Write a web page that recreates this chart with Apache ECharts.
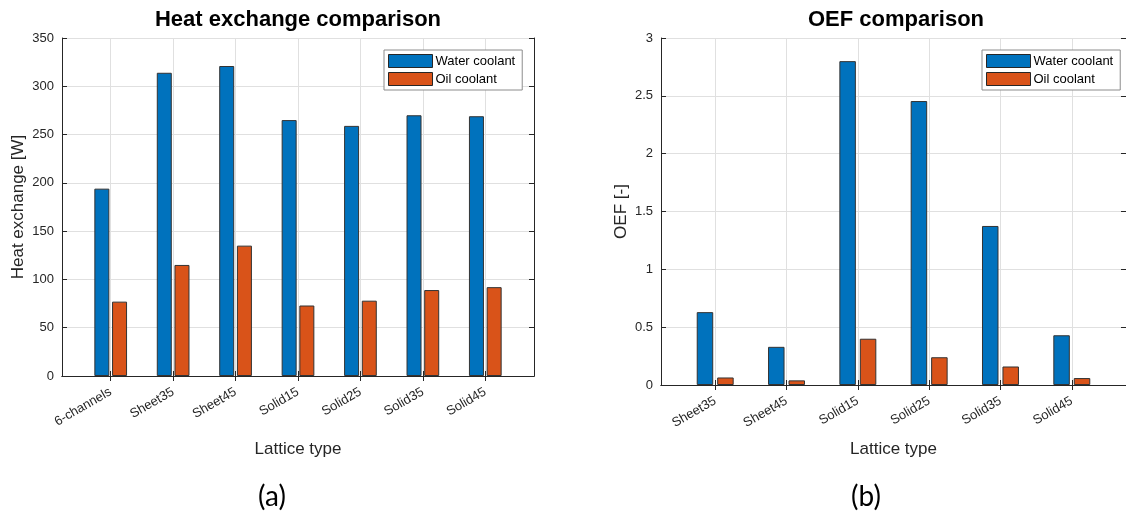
<!DOCTYPE html>
<html>
<head>
<meta charset="utf-8">
<script src="https://cdn.jsdelivr.net/npm/echarts@6/dist/echarts.min.js"></script>
<style>
  html, body { margin: 0; padding: 0; background: #fff; }
  #chart { width: 1126px; height: 516px; }
</style>
</head>
<body>
<div id="chart"></div>
<script>
// ---- data ----
const categoriesA = ['6-channels', 'Sheet35', 'Sheet45', 'Solid15', 'Solid25', 'Solid35', 'Solid45'];
const waterHeat = [194, 314, 321, 265, 259, 270, 269];
const oilHeat = [77, 115, 135, 73, 78, 89, 92];

const categoriesB = ['Sheet35', 'Sheet45', 'Solid15', 'Solid25', 'Solid35', 'Solid45'];
const waterOEF = [0.63, 0.33, 2.8, 2.455, 1.375, 0.43];
const oilOEF = [0.065, 0.04, 0.4, 0.24, 0.16, 0.06];

const seriesNames = ['Water coolant', 'Oil coolant'];
const yRangeA = { min: 0, max: 350, interval: 50 };
const yRangeB = { min: 0, max: 3, interval: 0.5 };

// ---- style ----
const FONT = '"Liberation Sans", Arial, sans-serif';
const INK = '#262626';
const GRID = '#e0e0e0';
const BLUE = '#0072BD';
const ORANGE = '#D95319';

const posA = categoriesA.map((_, i) => i + 1);
const posB = categoriesB.map((_, i) => i + 1);

function bottomAxis(gridIndex, cats, pos, min, max, nameGap) {
  return {
    type: 'value', gridIndex, position: 'bottom', min, max,
    name: 'Lattice type', nameLocation: 'middle', nameGap,
    nameTextStyle: { fontFamily: FONT, fontSize: 17, color: INK },
    axisLine: { show: true, lineStyle: { color: INK, width: 1 } },
    axisTick: { show: true, inside: true, length: 5, customValues: pos, lineStyle: { color: INK } },
    axisLabel: {
      show: true, customValues: pos, rotate: 30, margin: 15,
      fontFamily: FONT, fontSize: 13, color: INK,
      formatter: v => cats[Math.round(v) - 1] || ''
    },
    splitLine: { show: true, lineStyle: { color: GRID, width: 1 } }
  };
}
function topAxis(gridIndex, pos, min, max) {
  return {
    type: 'value', gridIndex, position: 'top', min, max,
    axisLine: { show: true, lineStyle: { color: INK, width: 1 } },
    axisTick: { show: true, inside: true, length: 5, customValues: pos, lineStyle: { color: INK } },
    axisLabel: { show: false },
    splitLine: { show: false }
  };
}
function leftAxis(gridIndex, r, name, nameGap) {
  return {
    type: 'value', gridIndex, position: 'left', min: r.min, max: r.max, interval: r.interval,
    name, nameLocation: 'middle', nameGap,
    nameTextStyle: { fontFamily: FONT, fontSize: 17, color: INK },
    axisLine: { show: true, lineStyle: { color: INK, width: 1 } },
    axisTick: { show: true, inside: true, length: 5, lineStyle: { color: INK } },
    axisLabel: { show: true, margin: 8, fontFamily: FONT, fontSize: 13, color: INK },
    splitLine: { show: true, lineStyle: { color: GRID, width: 1 } }
  };
}
function rightAxis(gridIndex, r) {
  return {
    type: 'value', gridIndex, position: 'right', min: r.min, max: r.max, interval: r.interval,
    axisLine: { show: true, lineStyle: { color: INK, width: 1 } },
    axisTick: { show: true, inside: true, length: 5, lineStyle: { color: INK } },
    axisLabel: { show: false },
    splitLine: { show: false }
  };
}
function barSeries(name, color, xi, yi, values, width, gap) {
  return {
    type: 'bar', name, xAxisIndex: xi, yAxisIndex: yi,
    data: values.map((v, i) => [i + 1, v]),
    barWidth: width, barGap: gap,
    itemStyle: { color, borderColor: '#333333', borderWidth: 1 },
    emphasis: { disabled: true },
    animation: false
  };
}
function legendAt(left, top) {
  return {
    left, top, orient: 'vertical',
    data: seriesNames.map(n => ({ name: n })),
    icon: 'rect', itemWidth: 44, itemHeight: 13, itemGap: 4,
    padding: [4, 7, 4, 4],
    backgroundColor: '#ffffff', borderColor: '#8c8c8c', borderWidth: 1,
    itemStyle: { borderColor: INK, borderWidth: 1 },
    textStyle: { fontFamily: FONT, fontSize: 13, color: '#000', padding: [0, 0, 0, -2] },
    selectedMode: false
  };
}

const chart = echarts.init(document.getElementById('chart'), null, { renderer: 'canvas' });
chart.setOption({
  animation: false,
  backgroundColor: '#ffffff',
  grid: [
    { left: 62, top: 38, width: 472, height: 338, show: true, borderColor: INK, borderWidth: 0 },
    { left: 661, top: 38, width: 470, height: 347, show: true, borderColor: INK, borderWidth: 0 }
  ],
  xAxis: [
    bottomAxis(0, categoriesA, posA, 0.22, 7.78, 65),
    topAxis(0, posA, 0.22, 7.78),
    bottomAxis(1, categoriesB, posB, 0.24, 6.76, 56),
    topAxis(1, posB, 0.24, 6.76)
  ],
  yAxis: [
    leftAxis(0, yRangeA, 'Heat exchange [W]', 35),
    rightAxis(0, yRangeA),
    leftAxis(1, yRangeB, 'OEF [-]', 31),
    rightAxis(1, yRangeB)
  ],
  legend: [
    Object.assign(legendAt(384, 50), { id: 'la' }),
    Object.assign(legendAt(982, 50), { id: 'lb' })
  ],
  series: [
    barSeries(seriesNames[0], BLUE, 0, 0, waterHeat, 15, '18%'),
    barSeries(seriesNames[1], ORANGE, 0, 0, oilHeat, 15, '18%'),
    barSeries(seriesNames[0], BLUE, 2, 2, waterOEF, 16.5, '24%'),
    barSeries(seriesNames[1], ORANGE, 2, 2, oilOEF, 16.5, '24%')
  ],
  graphic: [
    { type: 'text', style: { text: 'Heat exchange comparison', x: 298, y: 19.5, textAlign: 'center', textVerticalAlign: 'middle', font: 'bold 22px ' + FONT, fill: '#000' } },
    { type: 'text', style: { text: 'OEF comparison', x: 896, y: 19.5, textAlign: 'center', textVerticalAlign: 'middle', font: 'bold 22px ' + FONT, fill: '#000' } },
    { type: 'text', style: { text: '(a)', x: 272, y: 497, textAlign: 'center', textVerticalAlign: 'middle', font: '28px Lato, "Open Sans", sans-serif', fill: '#000' } },
    { type: 'text', style: { text: '(b)', x: 866, y: 497, textAlign: 'center', textVerticalAlign: 'middle', font: '28px Lato, "Open Sans", sans-serif', fill: '#000' } }
  ]
});
</script>
</body>
</html>
